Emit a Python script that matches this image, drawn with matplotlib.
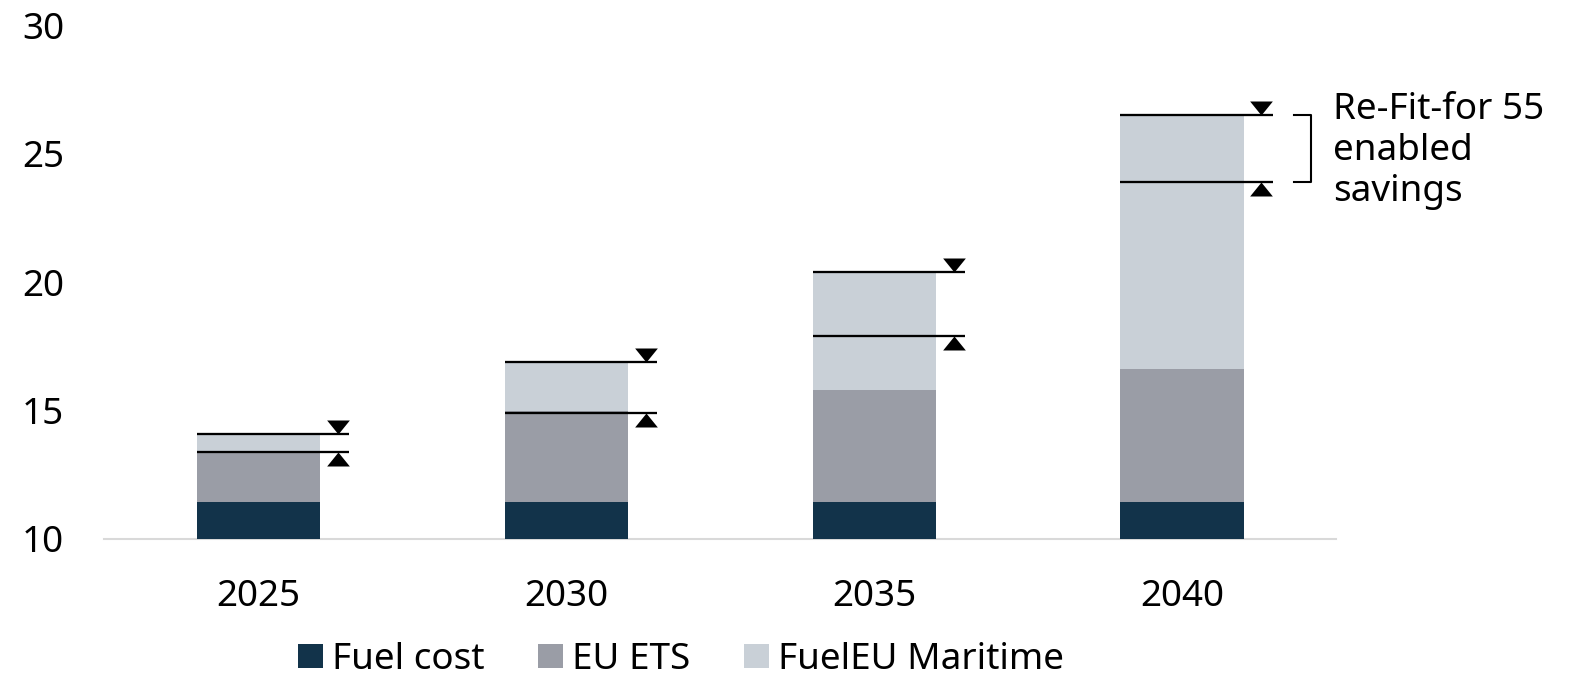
import matplotlib
matplotlib.use("Agg")
import matplotlib.pyplot as plt
from matplotlib.patches import Patch

plt.rcParams['font.family'] = ['Noto Sans', 'DejaVu Sans']

# Data
years = ["2025", "2030", "2035", "2040"]
fuel_cost = [11.45, 11.45, 11.45, 11.45]
eu_ets = [1.95, 3.55, 4.35, 5.15]
fueleu_maritime = [0.7, 1.9, 4.6, 9.9]
savings_low = [13.4, 14.9, 17.9, 23.9]
savings_high = [14.1, 16.9, 20.4, 26.5]
series_names = ["Fuel cost", "EU ETS", "FuelEU Maritime"]
annotation = "Re-Fit-for 55\nenabled\nsavings"

colors = ["#12334a", "#9a9da6", "#c9d0d7"]

DPI = 100
fig = plt.figure(figsize=(15.71, 6.74), dpi=DPI)
ax = fig.add_axes([0.0665, 1 - 539 / 674, 0.8504 - 0.0665, (539 - 25.3) / 674])

x = list(range(len(years)))
width = 0.4
bottom = [0.0] * len(years)
for vals, c in zip([fuel_cost, eu_ets, fueleu_maritime], colors):
    ax.bar(x, vals, width=width, bottom=bottom, color=c, edgecolor="none", zorder=2)
    bottom = [b + v for b, v in zip(bottom, vals)]

ax.set_xlim(-0.5, len(years) - 0.5)
ax.set_ylim(10, 30)
ax.set_yticks([10, 15, 20, 25, 30])
ax.set_xticks(x)
ax.set_xticklabels(years)
ax.tick_params(axis="both", length=0, labelsize=26.5, colors="black")
ax.tick_params(axis="x", pad=29)
ax.tick_params(axis="y", pad=29)
for s in ["top", "right", "left"]:
    ax.spines[s].set_visible(False)
ax.spines["bottom"].set_color("#d9d9d9")
ax.spines["bottom"].set_linewidth(1.5)
ax.spines["bottom"].set_zorder(1)

# Savings markers: horizontal rules with arrowheads pointing inward
ms = 2 * 14 / (DPI / 72)
tri_down = [(-11.35, 14), (11.35, 14), (0, 0)]
tri_up = [(-11.35, -14), (11.35, -14), (0, 0)]
for xi, lo, hi in zip(x, savings_low, savings_high):
    for yv in (lo, hi):
        ax.plot([xi - width / 2, xi + 0.294], [yv, yv], color="black", lw=1.65,
                solid_capstyle="butt", zorder=4, clip_on=False)
    ax.plot([xi + 0.258], [hi], marker=tri_down, markersize=ms, color="black",
            markeredgewidth=0, linestyle="none", zorder=5, clip_on=False)
    ax.plot([xi + 0.258], [lo], marker=tri_up, markersize=ms, color="black",
            markeredgewidth=0, linestyle="none", zorder=5, clip_on=False)

# Bracket and label next to the last bar
xl = x[-1]
bx0, bx1 = xl + 0.365, xl + 0.419
ax.plot([bx0, bx1, bx1, bx0], [savings_high[-1], savings_high[-1], savings_low[-1], savings_low[-1]],
        color="black", lw=1.5, clip_on=False, zorder=4)
ax.text(xl + 0.49, 27.4, annotation, fontsize=26.5, va="top", ha="left",
        linespacing=1.18, clip_on=False)

handles = [Patch(facecolor=c, edgecolor="none", label=n) for c, n in zip(colors, series_names)]
fig.legend(handles=handles, loc="center", bbox_to_anchor=(0.4335, 1 - 660 / 674),
           ncol=3, frameon=False, fontsize=26.5, handlelength=0.68, handleheight=0.62,
           handletextpad=0.25, columnspacing=1.45, borderaxespad=0, borderpad=0)

fig.savefig("out.png", dpi=DPI)
